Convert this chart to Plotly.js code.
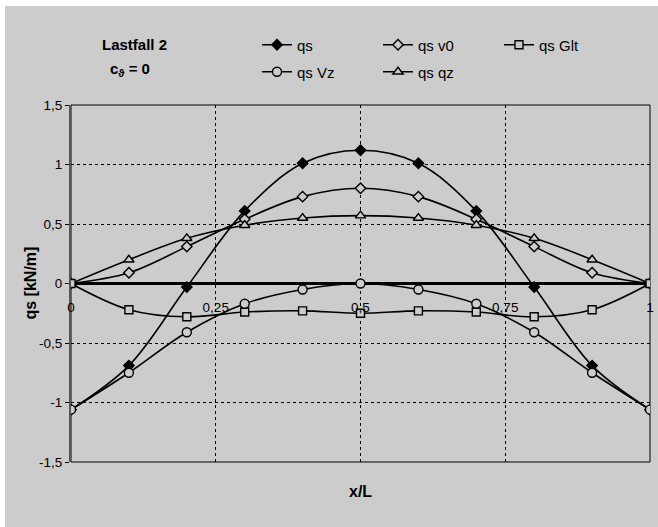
<!DOCTYPE html>
<html>
<head>
<meta charset="utf-8">
<script src="https://cdn.plot.ly/plotly-3.0.1.min.js"></script>
<style>html,body{margin:0;padding:0;background:#fff;}#chart{width:658px;height:527px;}</style>
</head>
<body>
<div id="chart"></div>
<script>
// ---- data ----
var xPos = [0, 0.1, 0.2, 0.3, 0.4, 0.5, 0.6, 0.7, 0.8, 0.9, 1];
var qs    = [-1.06, -0.69, -0.03, 0.61, 1.01, 1.12, 1.01, 0.61, -0.03, -0.69, -1.06];
var qsV0  = [0, 0.09, 0.31, 0.54, 0.73, 0.80, 0.73, 0.54, 0.31, 0.09, 0];
var qsQz  = [0, 0.20, 0.38, 0.49, 0.55, 0.57, 0.55, 0.49, 0.38, 0.20, 0];
var qsGlt = [0, -0.22, -0.28, -0.24, -0.23, -0.25, -0.23, -0.24, -0.28, -0.22, 0];
var qsVz  = [-1.06, -0.75, -0.41, -0.17, -0.05, 0, -0.05, -0.17, -0.41, -0.75, -1.06];

var seriesNames = ['qs', 'qs v0', 'qs Glt', 'qs Vz', 'qs qz'];
var xTickVals = [0, 0.25, 0.5, 0.75, 1];
var xTickLabels = ['0', '0,25', '0,5', '0,75', '1'];
var yTickVals = [-1.5, -1, -0.5, 0, 0.5, 1, 1.5];
var yTickLabels = ['-1,5', '-1', '-0,5', '0', '0,5', '1', '1,5'];

var BG = '#cccccc';
var FONT = 'Liberation Sans, Arial, sans-serif';
var W = 658, H = 527, ML = 71, MR = 8, MT = 105, MB = 65;
var PW = W - ML - MR, PH = H - MT - MB;
function px2x(p) { return (p - ML) / PW; }
function px2y(p) { return (H - MB - p) / PH; }

function tr(y, name, symbol, fill, size, legendId) {
  return {
    x: xPos, y: y, name: name, type: 'scatter', mode: 'lines+markers',
    line: {color: '#000', width: 1.6, shape: 'spline', smoothing: 1},
    marker: {symbol: symbol, size: size, color: fill, line: {color: '#000', width: 1.4}},
    legend: legendId, showlegend: true
  };
}

var data = [
  tr(qs, seriesNames[0], 'diamond', '#000', 8, 'legend'),
  tr(qsV0, seriesNames[1], 'diamond', BG, 8, 'legend2'),
  tr(qsQz, seriesNames[4], 'triangle-up', BG, 9, 'legend5'),
  tr(qsGlt, seriesNames[2], 'square', BG, 8, 'legend3'),
  tr(qsVz, seriesNames[3], 'circle', BG, 9, 'legend4')
];

function leg(xp, yp) {
  return {x: px2x(xp), y: px2y(yp), xanchor: 'left', yanchor: 'middle',
    orientation: 'h', bgcolor: 'rgba(0,0,0,0)', borderwidth: 0,
    font: {family: FONT, size: 15, color: '#000'}};
}

var layout = {
  width: W, height: H,
  margin: {l: ML, r: MR, t: MT, b: MB, pad: 0},
  paper_bgcolor: '#ffffff',
  plot_bgcolor: BG,
  font: {family: FONT, color: '#000'},
  showlegend: true,
  legend: leg(257, 45),
  legend2: leg(378, 45),
  legend3: leg(499, 45),
  legend4: leg(257, 72),
  legend5: leg(378, 72),
  xaxis: {
    range: [0, 1], anchor: 'free', position: 0.5,
    tickvals: xTickVals, ticktext: xTickLabels,
    ticks: 'outside', ticklen: 11, tickcolor: 'rgba(0,0,0,0)',
    tickfont: {family: FONT, size: 13.5, color: '#000'},
    showgrid: true, gridcolor: '#000', gridwidth: 1, griddash: 'dot',
    zeroline: false, showline: false, fixedrange: true
  },
  yaxis: {
    range: [-1.5, 1.5],
    tickvals: yTickVals, ticktext: yTickLabels,
    ticks: 'outside', ticklen: 4, tickcolor: '#000', tickwidth: 1,
    tickfont: {family: FONT, size: 13.5, color: '#000'},
    showgrid: true, gridcolor: '#000', gridwidth: 1, griddash: 'dot',
    zeroline: true, zerolinecolor: '#000', zerolinewidth: 2.5,
    showline: true, linecolor: '#555555', linewidth: 2, fixedrange: true
  },
  shapes: [
    {type: 'rect', xref: 'paper', yref: 'paper', layer: 'below',
     x0: px2x(5), x1: px2x(700), y0: px2y(600), y1: px2y(6),
     fillcolor: BG, line: {width: 0}},
    {type: 'rect', xref: 'paper', yref: 'paper', layer: 'below',
     x0: 0, x1: 1, y0: 0, y1: 1, fillcolor: 'rgba(0,0,0,0)',
     line: {color: '#000', width: 1}}
  ],
  annotations: [
    {text: '<b>Lastfall 2</b>', xref: 'paper', yref: 'paper', x: px2x(100), y: px2y(45),
     xanchor: 'left', yanchor: 'middle', showarrow: false, font: {family: FONT, size: 15, color: '#000'}},
    {text: '<b>c<sub>ϑ</sub> = 0</b>', xref: 'paper', yref: 'paper', x: px2x(108), y: px2y(70),
     xanchor: 'left', yanchor: 'middle', showarrow: false, font: {family: FONT, size: 15, color: '#000'}},
    {text: '<b>x/L</b>', xref: 'paper', yref: 'paper', x: px2x(360), y: px2y(491),
     xanchor: 'center', yanchor: 'middle', showarrow: false, font: {family: FONT, size: 16, color: '#000'}},
    {text: '<b>qs [kN/m]</b>', xref: 'paper', yref: 'paper', x: px2x(30), y: 0.5, textangle: -90,
     xanchor: 'center', yanchor: 'middle', showarrow: false, font: {family: FONT, size: 16, color: '#000'}}
  ]
};

Plotly.newPlot('chart', data, layout, {displayModeBar: false, staticPlot: true});
</script>
</body>
</html>
